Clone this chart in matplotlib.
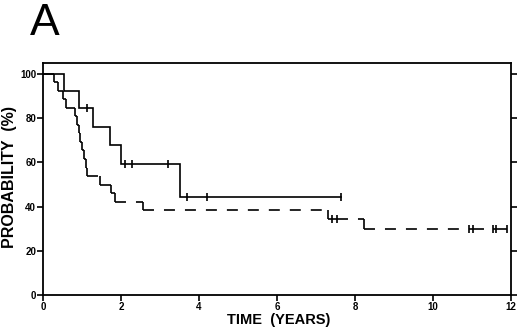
import matplotlib
matplotlib.use("Agg")
import matplotlib.pyplot as plt
import numpy as np

# ---- data ----
# Group 1 (solid curve)
upper_event_times = [0.55, 0.93, 1.29, 1.72, 1.99, 3.51]
upper_surv = [92.3, 84.6, 76.2, 67.7, 59.3, 44.4]
upper_censor_times = [1.12, 2.10, 2.27, 3.21, 3.68, 4.20, 7.64]
upper_end = 7.64

# Group 2 (dashed curve)
lower_event_times = [0.28, 0.39, 0.52, 0.59, 0.82, 0.88, 0.92, 0.96, 1.00,
                     1.04, 1.09, 1.14, 1.46, 1.74, 1.85, 2.56, 7.32, 8.23]
lower_surv = [96.2, 92.3, 88.5, 84.6, 80.8, 76.9, 73.1, 69.2, 65.4,
              61.5, 57.7, 53.8, 50.0, 46.2, 42.3, 38.5, 34.6, 29.8]
lower_censor_times = [7.42, 7.54, 10.93, 11.03, 11.55, 11.61, 11.89]
lower_end = 11.91

x_ticks = [0, 2, 4, 6, 8, 10, 12]
y_ticks = [0, 20, 40, 60, 80, 100]
x_label = "TIME  (YEARS)"
y_label = "PROBABILITY  (%)"
panel_label = "A"

BOLD = "Liberation Sans"
LW = 1.2


def surv_at(t, times, surv):
    s = 100.0
    for ti, si in zip(times, surv):
        if ti <= t:
            s = si
    return s


fig = plt.figure(figsize=(5.2, 3.3), dpi=100)
ax = fig.add_axes([43 / 520, 1 - 295 / 330, (511 - 43) / 520, (295 - 63) / 330])

# upper curve: solid step
ux = [0] + upper_event_times + [upper_end]
uy = [100] + upper_surv + [upper_surv[-1]]
ax.step(ux, uy, where="post", color="black", lw=LW, solid_joinstyle="miter")
ax.plot(upper_censor_times,
        [surv_at(t, upper_event_times, upper_surv) for t in upper_censor_times],
        ls="none", marker="|", ms=6, mew=1.2, color="black")

# lower curve: vertical drops solid, horizontal pieces dashed (pattern restarts per piece)
breaks = sorted(set([0.0] + lower_event_times + lower_censor_times + [lower_end]))
segs = []
for a, b in zip(breaks[:-1], breaks[1:]):
    s = surv_at(a, lower_event_times, lower_surv)
    segs.append((a, b, s))
dash = (0, (7.9 / LW, 7.2 / LW))
ax.hlines([s for a, b, s in segs], [a for a, b, s in segs], [b for a, b, s in segs],
          colors="black", linewidth=LW, linestyles=[dash])
prev = [100] + lower_surv[:-1]
ax.vlines(lower_event_times, lower_surv, prev, colors="black", linewidth=LW)
ax.plot(lower_censor_times,
        [surv_at(t, lower_event_times, lower_surv) for t in lower_censor_times],
        ls="none", marker="|", ms=6, mew=1.2, color="black")

ax.set_xlim(0, 12)
ax.set_ylim(0, 105)
ax.set_xticks(x_ticks)
ax.set_yticks(y_ticks)
ax.set_xticklabels([str(v) for v in x_ticks], fontfamily=BOLD, fontweight="bold", fontsize=7)
ax.set_yticklabels([str(v) for v in y_ticks], fontfamily=BOLD, fontweight="bold", fontsize=7)
ax.tick_params(axis="x", direction="out", length=4, width=1.2, pad=1)
ax.tick_params(axis="y", direction="out", length=4, width=1.2, pad=1,
               right=True, labelright=False)
for sp in ax.spines.values():
    sp.set_linewidth(1.3)

fig.text(279 / 520, 1 - 320 / 330, x_label, ha="center", va="center",
         fontfamily=BOLD, fontweight="bold", fontsize=10.5)
fig.text(10 / 520, 1 - 177 / 330, y_label, ha="center", va="center", rotation=90,
         fontfamily=BOLD, fontweight="bold", fontsize=11.5)
fig.text(45 / 520, 1 - 35 / 330, panel_label, ha="center", va="baseline",
         fontfamily=BOLD, fontsize=32)

fig.savefig("out.png", dpi=100)
